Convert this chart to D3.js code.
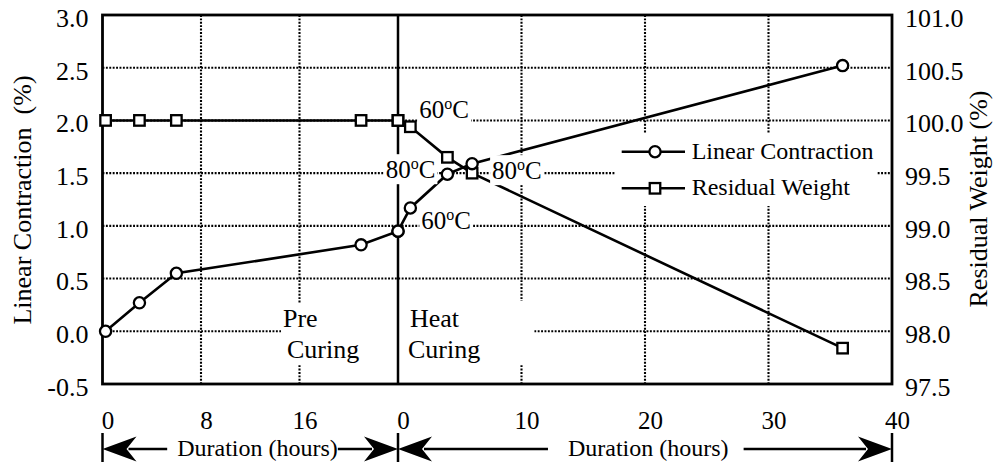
<!DOCTYPE html>
<html>
<head>
<meta charset="utf-8">
<script src="https://cdn.jsdelivr.net/npm/d3@7"></script>
<style>
  html, body { margin: 0; padding: 0; background: #fff; }
  svg { display: block; font-family: "Liberation Serif", "Times New Roman", serif; }
</style>
</head>
<body>
<svg id="chart" width="999" height="462"></svg>
<script>
// Pre-curing stage (hours since casting)
const preHours = [0.25, 3, 6, 21, 24];
const preContraction = [0.0, 0.27, 0.55, 0.82, 0.95];   // %
const preWeight = [100.0, 100.0, 100.0, 100.0, 100.0];  // %

// Heat-curing stage (hours since heating started)
const heatHours = [0, 1, 4, 6, 36];
const heatContraction = [0.95, 1.17, 1.49, 1.59, 2.52]; // %
const heatWeight = [100.0, 99.94, 99.65, 99.5, 97.84];  // %

// Axis ticks
const preTicks = [0, 8, 16];
const heatTicks = [0, 10, 20, 30, 40];
const contractionTicks = [-0.5, 0.0, 0.5, 1.0, 1.5, 2.0, 2.5, 3.0];
const weightTicks = [97.5, 98.0, 98.5, 99.0, 99.5, 100.0, 100.5, 101.0];

// Series names
const seriesNames = ["Linear Contraction", "Residual Weight"];

(function draw() {
const svg = d3.select("#chart");
const pL = 102.5, pR = 892, pT = 15, pB = 384;
const split = 398;

const xPre = d3.scaleLinear().domain([0, 24]).range([pL, split]);
const xHeat = d3.scaleLinear().domain([0, 40]).range([split, pR]);
const yC = d3.scaleLinear().domain([-0.5, 3.0]).range([pB, pT]);
const yW = d3.scaleLinear().domain([97.5, 101.0]).range([pB, pT]);

const gGrid = svg.append("g");
const gBoxes = svg.append("g");
const gFrame = svg.append("g");
const gLines = svg.append("g");
const gNotes = svg.append("g");
const gMarks = svg.append("g");
const gAxes = svg.append("g");

// dotted grid
function styleDots(sel) {
  return sel.attr("stroke", "#000").attr("stroke-width", 2.1).attr("stroke-dasharray", "1.9,1.5");
}

styleDots(gGrid.selectAll("line.h")
  .data(contractionTicks.filter(v => v > -0.5 && v < 3.0))
  .join("line").attr("class", "h")
  .attr("x1", pL).attr("x2", pR)
  .attr("y1", d => yC(d)).attr("y2", d => yC(d)));

styleDots(gGrid.selectAll("line.vp")
  .data(preTicks.filter(v => v > 0))
  .join("line").attr("class", "vp")
  .attr("x1", d => xPre(d)).attr("x2", d => xPre(d))
  .attr("y1", pT).attr("y2", pB));

styleDots(gGrid.selectAll("line.vh")
  .data(heatTicks.filter(v => v > 0 && v < 40))
  .join("line").attr("class", "vh")
  .attr("x1", d => xHeat(d)).attr("x2", d => xHeat(d))
  .attr("y1", pT).attr("y2", pB));

// stage labels with white backing
function stageLabel(x1, x2, words) {
  const t = gBoxes.append("text").attr("font-size", 26).attr("fill", "#000");
  t.append("tspan").attr("x", x1).attr("y", 327).text(words[0]);
  t.append("tspan").attr("x", x2).attr("y", 358).text(words[1]);
  return t;
}
const preLabel = stageLabel(283, 287, ["Pre", "Curing"]);
const heatLabel = stageLabel(410, 408, ["Heat", "Curing"]);
{
  const b1 = preLabel.node().getBBox();
  gBoxes.insert("rect", "text")
    .attr("x", b1.x - 2).attr("y", b1.y - 1)
    .attr("width", split - (b1.x - 2)).attr("height", b1.height + 2)
    .attr("fill", "#fff");
  const b2 = heatLabel.node().getBBox();
  gBoxes.insert("rect", "text")
    .attr("x", split).attr("y", b2.y - 3)
    .attr("width", b2.x + b2.width + 54 - split).attr("height", b2.height + 4)
    .attr("fill", "#fff");
}

// frame and stage divider
gFrame.append("rect")
  .attr("x", pL).attr("y", pT).attr("width", pR - pL).attr("height", pB - pT)
  .attr("fill", "none").attr("stroke", "#000").attr("stroke-width", 2.8);
gFrame.append("line")
  .attr("x1", split).attr("x2", split).attr("y1", pT).attr("y2", pB)
  .attr("stroke", "#000").attr("stroke-width", 2.5);

// series points
const contractionPts = preHours.map((h, i) => [xPre(h), yC(preContraction[i])])
  .concat(heatHours.map((h, i) => [xHeat(h), yC(heatContraction[i])]));
const weightPts = preHours.map((h, i) => [xPre(h), yW(preWeight[i])])
  .concat(heatHours.map((h, i) => [xHeat(h), yW(heatWeight[i])]));

const line = d3.line();
gLines.append("path").attr("d", line(contractionPts))
  .attr("fill", "none").attr("stroke", "#000").attr("stroke-width", 2.6);
gLines.append("path").attr("d", line(weightPts))
  .attr("fill", "none").attr("stroke", "#000").attr("stroke-width", 2.6);

// temperature notes
function tempNote(x, y, digits, anchor) {
  const t = gNotes.append("text").attr("x", x).attr("y", y)
    .attr("font-size", 25).attr("text-anchor", anchor || "start");
  t.append("tspan").text(digits);
  t.append("tspan").attr("font-size", 16).attr("dy", -9).text("o");
  t.append("tspan").attr("dy", 9).text("C");
  const b = t.node().getBBox();
  gNotes.insert("rect", () => t.node())
    .attr("x", b.x - 2).attr("y", b.y - 1)
    .attr("width", b.width + 4).attr("height", b.height + 2)
    .attr("fill", "#fff");
}
tempNote(xHeat(heatHours[1]) + 9, yW(heatWeight[1]) - 8.5, "60");
tempNote(xHeat(heatHours[2]) - 12, yC(heatContraction[2]) + 4, "80", "end");
tempNote(xHeat(heatHours[3]) + 20, yW(heatWeight[3]) + 6, "80");
tempNote(xHeat(heatHours[1]) + 11, yC(heatContraction[1]) + 21, "60");

// markers
function circles(pts) {
  gMarks.selectAll(null).data(pts).join("circle")
    .attr("cx", d => d[0]).attr("cy", d => d[1]).attr("r", 5.6)
    .attr("fill", "#fff").attr("stroke", "#000").attr("stroke-width", 2.3);
}
function squares(pts) {
  const s = 10.5;
  gMarks.selectAll(null).data(pts).join("rect")
    .attr("x", d => d[0] - s / 2).attr("y", d => d[1] - s / 2)
    .attr("width", s).attr("height", s)
    .attr("fill", "#fff").attr("stroke", "#000").attr("stroke-width", 2.3);
}
squares(weightPts);
circles(contractionPts);

// legend
const lg = svg.append("g");
lg.append("rect").attr("x", 615).attr("y", 133).attr("width", 262).attr("height", 73).attr("fill", "#fff");
const rows = [151.7, 188.3];
rows.forEach((ry, i) => {
  lg.append("line").attr("x1", 621.7).attr("x2", 685).attr("y1", ry).attr("y2", ry)
    .attr("stroke", "#000").attr("stroke-width", 2.6);
  if (i === 0) {
    lg.append("circle").attr("cx", 655).attr("cy", ry).attr("r", 5.6)
      .attr("fill", "#fff").attr("stroke", "#000").attr("stroke-width", 2.3);
  } else {
    lg.append("rect").attr("x", 655 - 5.25).attr("y", ry - 5.25).attr("width", 10.5).attr("height", 10.5)
      .attr("fill", "#fff").attr("stroke", "#000").attr("stroke-width", 2.3);
  }
  lg.append("text").attr("x", 691.7).attr("y", ry + 7).attr("font-size", 24).text(seriesNames[i]);
});

// axes
const fmt1 = d => d.toFixed(1);
function restyle(g, size) {
  g.attr("font-family", null).attr("font-size", size);
  g.select(".domain").remove();
  g.selectAll("text").attr("fill", "#000");
}
const axL = gAxes.append("g").attr("transform", `translate(${pL},0)`)
  .call(d3.axisLeft(yC).tickValues(contractionTicks).tickFormat(fmt1).tickSize(0).tickPadding(14));
restyle(axL, 26);
axL.selectAll("text").attr("y", 3);

const axR = gAxes.append("g").attr("transform", `translate(${pR},0)`)
  .call(d3.axisRight(yW).tickValues(weightTicks).tickFormat(fmt1).tickSize(0).tickPadding(13));
restyle(axR, 26);
axR.selectAll("text").attr("y", 3);

const axP = gAxes.append("g").attr("transform", `translate(0,${pB})`)
  .call(d3.axisBottom(xPre).tickValues(preTicks).tickFormat(d3.format("d")).tickSize(0).tickPadding(27));
restyle(axP, 25);
axP.selectAll("text").attr("dx", 5);

const axH = gAxes.append("g").attr("transform", `translate(0,${pB})`)
  .call(d3.axisBottom(xHeat).tickValues(heatTicks).tickFormat(d3.format("d")).tickSize(0).tickPadding(27));
restyle(axH, 25);
axH.selectAll("text").attr("dx", 5);

// axis titles
gAxes.append("text").attr("transform", "translate(31,200) rotate(-90)")
  .attr("text-anchor", "middle").attr("font-size", 26).style("white-space", "pre")
  .text("Linear Contraction  (%)");
gAxes.append("text").attr("transform", "translate(987,199) rotate(-90)")
  .attr("text-anchor", "middle").attr("font-size", 26)
  .text("Residual Weight (%)");

// duration arrows under each stage
const ay = 449;
const gArr = svg.append("g");
[pL, split, pR].forEach(x => {
  gArr.append("line").attr("x1", x).attr("x2", x).attr("y1", 433).attr("y2", 462)
    .attr("stroke", "#000").attr("stroke-width", 2.5);
});
function head(tip, dir) {
  // dir = -1 points left, +1 points right
  const p = d3.path();
  p.moveTo(tip, ay);
  p.lineTo(tip - dir * 34, ay - 12.5);
  p.lineTo(tip - dir * 24, ay);
  p.lineTo(tip - dir * 34, ay + 12.5);
  p.closePath();
  gArr.append("path").attr("d", p.toString()).attr("fill", "#000");
}
function shaft(x1, x2) {
  gArr.append("line").attr("x1", x1).attr("x2", x2).attr("y1", ay).attr("y2", ay)
    .attr("stroke", "#000").attr("stroke-width", 2.5);
}
function duration(cx, gapL, gapR, x0, x1) {
  const t = gArr.append("text").attr("x", cx).attr("y", 456)
    .attr("text-anchor", "middle").attr("font-size", 24).text("Duration (hours)");
  const b = t.node().getBBox();
  head(x0, -1); head(x1, 1);
  shaft(x0 + 26, b.x - gapL);
  shaft(b.x + b.width + gapR, x1 - 26);
}
duration(257.5, 10, 0, pL, split);
duration(648.3, 20, 15, split, pR);
})();
</script>
</body>
</html>
